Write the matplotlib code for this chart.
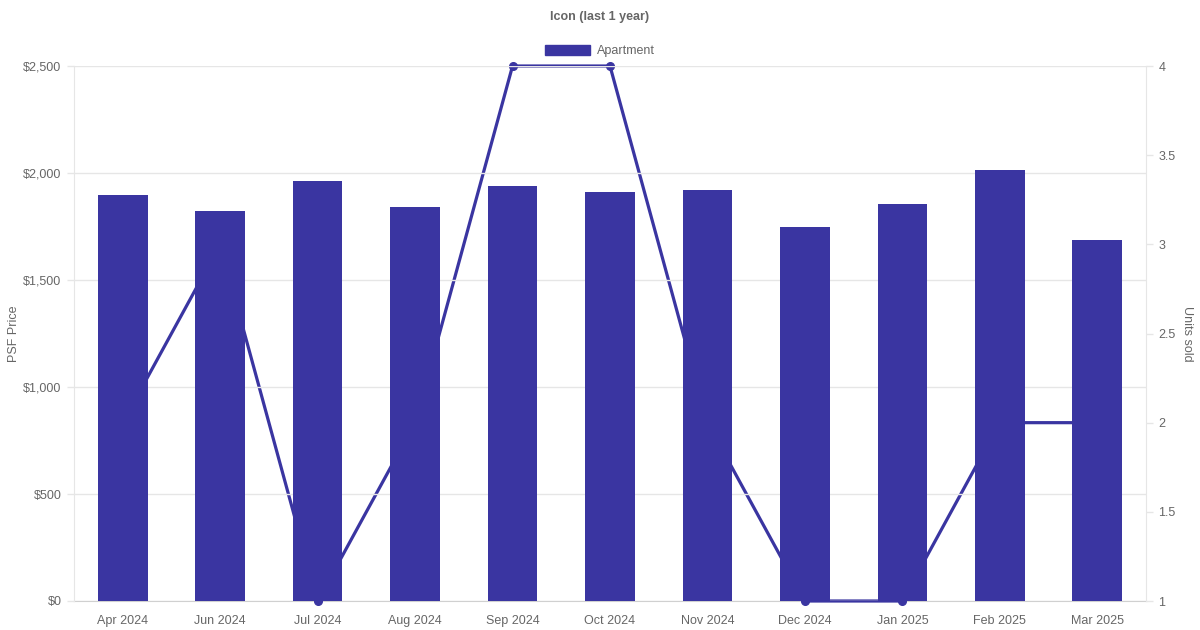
import matplotlib.pyplot as plt
from matplotlib.ticker import FuncFormatter, MultipleLocator
from matplotlib.patches import Patch

plt.rcParams['font.family'] = ['Liberation Sans', 'DejaVu Sans']

months = ['Apr 2024', 'Jun 2024', 'Jul 2024', 'Aug 2024', 'Sep 2024', 'Oct 2024',
          'Nov 2024', 'Dec 2024', 'Jan 2025', 'Feb 2025', 'Mar 2025']
psf_price = [1897, 1822, 1963, 1841, 1939, 1911, 1921, 1748, 1855, 2014, 1687]
units_sold = [2, 3, 1, 2, 4, 4, 2, 1, 1, 2, 2]

color = '#3a35a1'
text_color = '#666666'
grid_color = '#e6e6e6'

fig = plt.figure(figsize=(12, 6.3), dpi=100)
ax = fig.add_axes([74 / 1200, 1 - 601 / 630, (1146 - 74) / 1200, (601 - 66) / 630])
ax2 = ax.twinx()

# line sits behind the bars
ax2.set_zorder(ax.get_zorder() - 1)
ax.patch.set_visible(False)

x = range(len(months))
ax.bar(x, psf_price, width=0.51, color=color, zorder=3)
ax2.plot(x, units_sold, color=color, linewidth=2.3, marker='o', markersize=5.5,
         zorder=5, clip_on=False)

ax.set_xlim(-0.5, len(months) - 0.5)
ax.set_ylim(0, 2500)
ax.yaxis.set_major_locator(MultipleLocator(500))
ax.yaxis.set_major_formatter(FuncFormatter(lambda v, p: f'${v:,.0f}'))
ax2.set_ylim(1, 4)
ax2.yaxis.set_major_locator(MultipleLocator(0.5))
ax2.yaxis.set_major_formatter(FuncFormatter(lambda v, p: f'{v:g}'))

ax.set_xticks(list(x))
ax.set_xticklabels(months)

ax.grid(axis='y', color=grid_color, linewidth=1, zorder=0)
ax.set_axisbelow(True)

for a in (ax, ax2):
    a.spines['top'].set_visible(False)
    for s in ('left', 'right'):
        a.spines[s].set_color(grid_color)
    a.spines['bottom'].set_color('#d0d0d0')
    a.tick_params(colors=text_color, labelsize=9, length=5, width=1, pad=4)
    a.tick_params(axis='y', color=grid_color)
ax.tick_params(axis='x', length=0, pad=10)
ax2.spines['left'].set_visible(False)
ax.spines['right'].set_visible(False)
# the flat Dec-Jan segment should sit on top of the axis line
ax.spines['bottom'].set_visible(False)
ax2.spines['bottom'].set_zorder(1)

ax.set_ylabel('PSF Price', color=text_color, fontsize=9, va='center')
ax.yaxis.set_label_coords((14 - 74) / 1072, 0.5)
ax2.set_ylabel('Units sold', color=text_color, fontsize=9, rotation=270, va='center')
ax2.yaxis.set_label_coords((1187 - 74) / 1072, 0.5)

fig.text(0.5, 1 - 17 / 630, 'Icon (last 1 year)', ha='center', va='center',
         color=text_color, fontsize=9, fontweight='bold')

handle = Patch(facecolor=color, edgecolor=color)
fig.legend(handles=[handle], labels=['Apartment'], loc='center', bbox_to_anchor=(0.5, 1 - 51 / 630),
           frameon=False, fontsize=9, labelcolor=text_color, handlelength=3.6, handleheight=0.9,
           handletextpad=0.5)

fig.savefig('out.png', dpi=100)
